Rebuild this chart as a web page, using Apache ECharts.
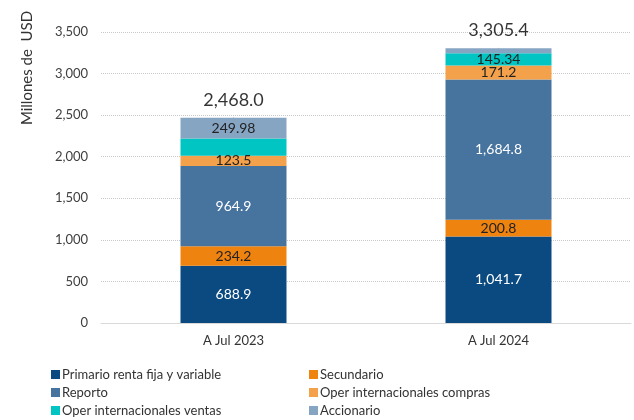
<!DOCTYPE html>
<html>
<head>
<meta charset="utf-8">
<script src="https://cdn.jsdelivr.net/npm/echarts@6/dist/echarts.min.js"></script>
<style>
  html, body { margin: 0; padding: 0; background: #fff; }
  #graph { width: 634px; height: 420px; }
</style>
</head>
<body>
<div id="graph"></div>
<script>
// datos
var categories = ['A Jul 2023', 'A Jul 2024'];
var primario = [688.9, 1041.7];
var secundario = [234.2, 200.8];
var reporto = [964.9, 1684.8];
var operCompras = [123.5, 171.2];
var operVentas = [206.5, 145.34];
var accionario = [249.98, 61.6];
var totales = [2468.0, 3305.4];

var fontFam = 'Lato, "Open Sans", sans-serif';

function fmt(v) {
    // separador de miles
    var parts = String(v).split('.');
    parts[0] = parts[0].replace(/\B(?=(\d{3})+(?!\d))/g, ',');
    return parts.join('.');
}

function serie(name, data, color, labelColor, showLabel) {
    return {
        name: name,
        type: 'bar',
        stack: 'total',
        barWidth: '40%',
        data: data,
        itemStyle: {color: color},
        label: {
            show: true,
            position: 'inside',
            color: labelColor,
            fontSize: 14,
            fontFamily: fontFam,
            formatter: function (p) {
                if (showLabel && !showLabel[p.dataIndex]) return '';
                return fmt(p.value);
            }
        }
    };
}

// una leyenda por elemento, en dos columnas
function leyenda(name, left, top) {
    return {
        left: left,
        top: top,
        itemWidth: 9,
        itemHeight: 9,
        icon: 'rect',
        textStyle: {fontSize: 13, color: '#333', fontFamily: fontFam, padding: [0, 0, 0, -3]},
        data: [name]
    };
}

var option = {
    animation: false,
    textStyle: {fontFamily: fontFam},
    grid: {left: 101, right: 3, top: 32, bottom: 97},
    legend: [
        leyenda('Primario renta fija y variable', 46, 363),
        leyenda('Reporto', 46, 381),
        leyenda('Oper internacionales ventas', 46, 399),
        leyenda('Secundario', 304, 363),
        leyenda('Oper internacionales compras', 304, 381),
        leyenda('Accionario', 304, 399)
    ],
    graphic: [{
        type: 'text',
        x: 27,
        y: 68,
        rotation: Math.PI / 2,
        style: {
            text: 'Millones de  USD',
            fontSize: 15,
            fontFamily: fontFam,
            fill: '#333',
            align: 'center',
            verticalAlign: 'middle'
        }
    }],
    xAxis: {
        type: 'category',
        data: categories,
        axisTick: {show: false},
        axisLine: {lineStyle: {color: '#d9d9d9'}},
        axisLabel: {fontSize: 13, color: '#333', margin: 11}
    },
    yAxis: {
        type: 'value',
        min: 0,
        max: 3500,
        interval: 500,
        axisLabel: {
            fontSize: 13,
            color: '#404040',
            margin: 13,
            formatter: function (v) { return fmt(v); }
        },
        splitLine: {lineStyle: {type: 'dotted', color: '#c8c8c8'}}
    },
    series: [
        serie('Primario renta fija y variable', primario, '#0b4a80', '#fff'),
        serie('Secundario', secundario, '#ef8310', '#222'),
        serie('Reporto', reporto, '#47749f', '#fff'),
        serie('Oper internacionales compras', operCompras, '#f4a14b', '#222'),
        serie('Oper internacionales ventas', operVentas, '#00c5c3', '#222', [false, true]),
        serie('Accionario', accionario, '#86a5c3', '#222', [true, false]),
        {
            name: 'Total',
            type: 'scatter',
            data: totales,
            symbolSize: 1,
            itemStyle: {color: '#86a5c3'},
            silent: true,
            z: 1,
            label: {
                show: true,
                position: 'top',
                distance: 8,
                fontSize: 18,
                color: '#000',
                fontFamily: fontFam,
                formatter: function (p) { return fmt(p.value.toFixed(1)); }
            }
        }
    ]
};

var chart = echarts.init(document.getElementById('graph'));
chart.setOption(option);
</script>
</body>
</html>
